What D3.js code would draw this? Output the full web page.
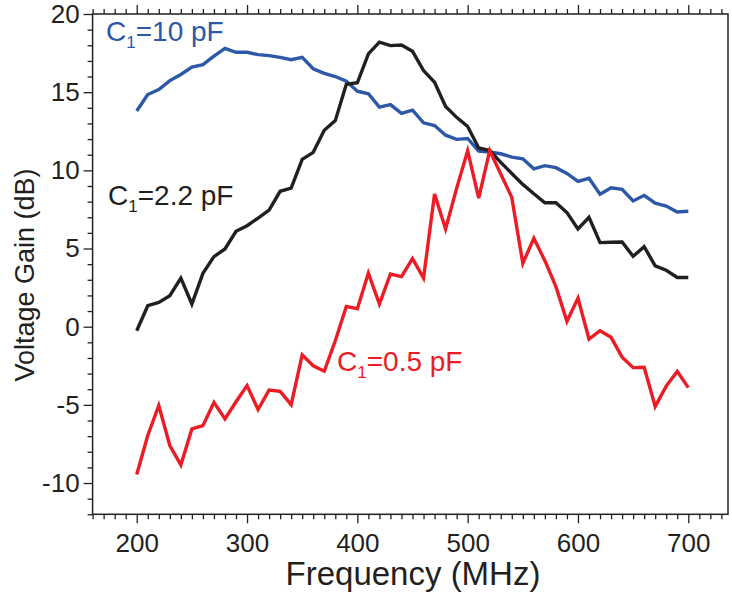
<!DOCTYPE html>
<html><head><meta charset="utf-8">
<script src="https://cdn.jsdelivr.net/npm/d3@7"></script>
<style>
body{margin:0;background:#fff}
svg{display:block}
text{font-family:"Liberation Sans",Arial,Helvetica,sans-serif}
</style>
</head><body>
<svg id="c" width="732" height="594"></svg>
<script>
// ---- data ----
const frequency = [200,210,220,230,240,250,260,270,280,290,300,310,320,330,340,350,360,370,380,390,400,
  410,420,430,440,450,460,470,480,490,500,510,520,530,540,550,560,570,580,590,600,
  610,620,630,640,650,660,670,680,690,700];
const gain10pF = [13.8,14.85,15.17,15.74,16.13,16.6,16.76,17.3,17.8,17.55,17.55,17.4,17.34,17.23,17.08,17.23,16.5,16.2,16.0,15.7,15.06,
  14.9,14.04,14.2,13.64,13.85,13.04,12.87,12.25,11.98,12.04,11.23,11.17,11.06,10.85,10.74,10.1,10.3,10.17,9.8,9.3,
  9.49,8.47,8.89,8.79,8.04,8.4,7.9,7.72,7.34,7.38];
const gain2p2pF = [-0.26,1.34,1.55,1.98,3.11,1.45,3.41,4.48,4.97,6.1,6.46,6.95,7.46,8.66,8.87,10.7,11.15,12.56,13.18,15.5,15.6,
  17.45,18.2,17.98,18.02,17.61,16.38,15.63,14.08,13.39,12.8,11.43,11.26,10.51,9.8,9.1,8.5,7.93,7.93,7.3,6.25,
  7.0,5.38,5.4,5.42,4.5,5.12,3.89,3.61,3.15,3.15];
const gain0p5pF = [-9.45,-6.96,-5.04,-7.6,-8.84,-6.54,-6.33,-4.84,-5.9,-4.8,-3.77,-5.3,-4.05,-4.14,-4.99,-1.8,-2.5,-2.85,-0.9,1.3,1.15,
  3.43,1.45,3.37,3.2,4.35,3.11,8.49,6.25,8.85,11.26,8.23,11.26,9.76,8.27,4.05,5.66,4.22,2.56,0.34,1.83,
  -0.79,-0.26,-0.68,-1.95,-2.62,-2.6,-5.1,-3.8,-2.86,-3.9];
const xTickValues = [200,300,400,500,600,700];
const yTickValues = [-10,-5,0,5,10,15,20];
const seriesLabels = [
  {main:"C", sub:"1", rest:"=10 pF"},
  {main:"C", sub:"1", rest:"=2.2 pF"},
  {main:"C", sub:"1", rest:"=0.5 pF"}
];
const xTitle = "Frequency (MHz)";
const yTitle = "Voltage Gain (dB)";

// ---- layout ----
const svg = d3.select("#c");
const L = 92.6, R = 728, T = 14, B = 514.3;
const x = d3.scaleLinear().domain([160, 736]).range([L, R]);
const y = d3.scaleLinear().domain([-12, 20]).range([B, T]);
const ink = "#231f20";
const colors = ["#2d58a8", ink, "#ed1c24"];

const xMinor = d3.range(160, 736, 10).filter(v => !xTickValues.includes(v));
const yMinor = d3.range(-12, 21, 1).filter(v => !yTickValues.includes(v));

function styleAxis(g){
  g.select(".domain").remove();
  g.selectAll("line").attr("stroke", ink).attr("stroke-width", 1.3);
  g.selectAll("text").attr("fill", ink).style("font-size", "26px")
    .style("font-family", '"Liberation Sans",Arial,sans-serif');
}
const plain = d => String(d);

// bottom
svg.append("g").attr("transform", `translate(0,${B})`)
  .call(d3.axisBottom(x).tickValues(xMinor).tickSize(5).tickFormat(""))
  .call(styleAxis);
svg.append("g").attr("transform", `translate(0,${B})`)
  .call(d3.axisBottom(x).tickValues(xTickValues).tickSize(9).tickPadding(10).tickFormat(plain))
  .call(styleAxis);
// top
svg.append("g").attr("transform", `translate(0,${T})`)
  .call(d3.axisTop(x).tickValues(xMinor).tickSize(5).tickFormat(""))
  .call(styleAxis);
svg.append("g").attr("transform", `translate(0,${T})`)
  .call(d3.axisTop(x).tickValues(xTickValues).tickSize(9).tickFormat(""))
  .call(styleAxis);
// left
svg.append("g").attr("transform", `translate(${L},0)`)
  .call(d3.axisLeft(y).tickValues(yMinor).tickSize(5).tickFormat(""))
  .call(styleAxis);
svg.append("g").attr("transform", `translate(${L},0)`)
  .call(d3.axisLeft(y).tickValues(yTickValues).tickSize(9).tickPadding(4).tickFormat(plain))
  .call(styleAxis);

// frame
svg.append("rect").attr("x", L).attr("y", T).attr("width", R - L).attr("height", B - T)
  .attr("fill", "none").attr("stroke", ink).attr("stroke-width", 1.5);

// lines
const series = [gain10pF, gain2p2pF, gain0p5pF];
const line = d3.line().x((d, i) => x(frequency[i])).y(d => y(d));
series.forEach((s, k) => {
  svg.append("path").datum(s).attr("d", line)
    .attr("fill", "none").attr("stroke", colors[k]).attr("stroke-width", 3.4)
    .attr("stroke-linejoin", "miter").attr("stroke-miterlimit", 4);
});

// series labels
const labelPos = [[106, 41], [108, 205], [337, 371]];
seriesLabels.forEach((lb, k) => {
  const t = svg.append("text").attr("x", labelPos[k][0]).attr("y", labelPos[k][1])
    .attr("fill", colors[k]).style("font-size", "28px");
  t.append("tspan").text(lb.main);
  t.append("tspan").text(lb.sub).style("font-size", "17px").attr("dy", 7);
  t.append("tspan").text(lb.rest).attr("dy", -7);
});

// axis titles
svg.append("text").attr("x", 413).attr("y", 585).attr("text-anchor", "middle")
  .attr("fill", ink).style("font-size", "33px").text(xTitle);
svg.append("text").attr("transform", "translate(34,275) rotate(-90)").attr("text-anchor", "middle")
  .attr("fill", ink).style("font-size", "27px").text(yTitle);
</script>
</body></html>
